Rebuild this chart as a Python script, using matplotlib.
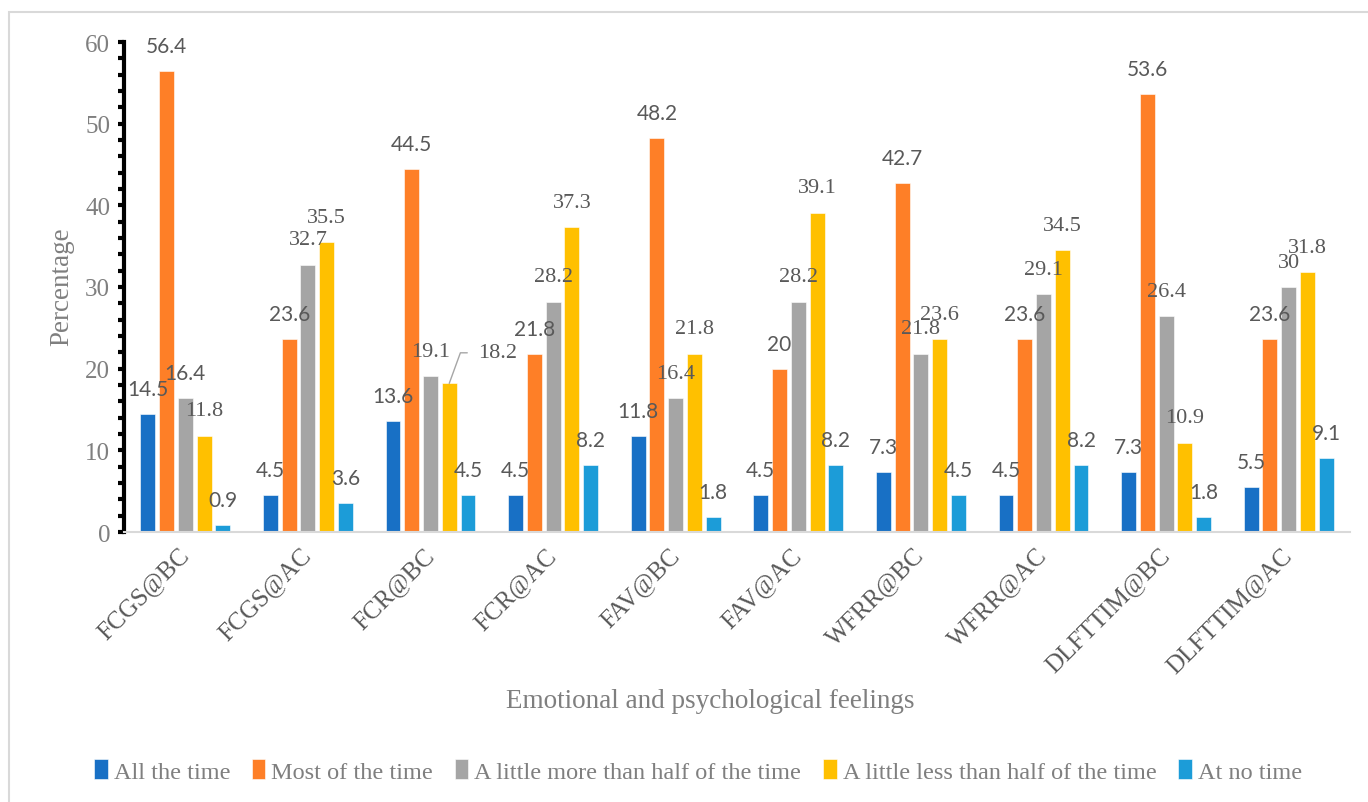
#!/usr/bin/env python3

"""
Grouped bar chart: emotional and psychological feelings before / after.
"""

import numpy as np
from matplotlib import pyplot as plt
from matplotlib.patches import Rectangle
from matplotlib.ticker import MultipleLocator

plt.rcParams['font.family'] = 'Liberation Serif'

#### DATA ####
categories = ['FCGS@BC', 'FCGS@AC', 'FCR@BC', 'FCR@AC', 'FAV@BC',
              'FAV@AC', 'WFRR@BC', 'WFRR@AC', 'DLFTTIM@BC', 'DLFTTIM@AC']
series_names = ['All the time', 'Most of the time',
                'A little more than half of the time',
                'A little less than half of the time', 'At no time']
all_time = [14.5, 4.5, 13.6, 4.5, 11.8, 4.5, 7.3, 4.5, 7.3, 5.5]
most_time = [56.4, 23.6, 44.5, 21.8, 48.2, 20, 42.7, 23.6, 53.6, 23.6]
more_half = [16.4, 32.7, 19.1, 28.2, 16.4, 28.2, 21.8, 29.1, 26.4, 30]
less_half = [11.8, 35.5, 18.2, 37.3, 21.8, 39.1, 23.6, 34.5, 10.9, 31.8]
no_time = [0.9, 3.6, 4.5, 8.2, 1.8, 8.2, 4.5, 8.2, 1.8, 9.1]

series = [all_time, most_time, more_half, less_half, no_time]
colors = ['#1870C5', '#FE7F27', '#A5A5A5', '#FFC000', '#1C9CD8']
# label font per series (Excel mixed Calibri and Times here)
label_fonts = ['Lato', 'Lato', 'Liberation Serif', 'Liberation Serif', 'Lato']

fig = plt.figure(figsize=(13.68, 8.03), dpi=100)
ax = fig.add_axes([124 / 1368, 1 - 533 / 803, 1226 / 1368, 490 / 803])

# light outer frame
fig.patches.append(Rectangle((9 / 1368, -0.05), 1.1, 1 - 13 / 803 + 0.05,
                             transform=fig.transFigure, fill=False,
                             edgecolor='#D9D9D9', linewidth=1.5))

x = np.arange(len(categories))
step = 0.153
width = 0.122
label_gray = '#595959'

for i, (vals, color) in enumerate(zip(series, colors)):
    pos = x + (i - 2) * step
    bars = ax.bar(pos, vals, width, color=color, label=series_names[i],
                  edgecolor='white', linewidth=0.4, zorder=2)
    for j, (b, v) in enumerate(zip(bars, vals)):
        txt = '{:g}'.format(v)
        font = label_fonts[i]
        if i == 2 and j == 0:
            font = 'Lato'
        bx = b.get_x() + b.get_width() / 2
        if i == 3 and j == 2:
            # label moved aside with a leader line
            ax.annotate(txt, xy=(bx, v), xytext=(35, 22), textcoords='offset points',
                        ha='center', va='center', fontsize=16, color=label_gray,
                        family=font, zorder=5,
                        arrowprops=dict(arrowstyle='-', color='#A6A6A6', lw=1,
                                        relpos=(0, 0.5), shrinkA=6, shrinkB=0,
                                        connectionstyle='angle,angleA=0,angleB=70,rad=0'))
            continue
        ax.annotate(txt, xy=(bx, v), xytext=(0, 18), textcoords='offset points',
                    ha='center', va='center', fontsize=16 if font != 'Lato' else 15,
                    color=label_gray, family=font, zorder=5)

ax.set_xlim(-0.5, len(categories) - 0.5)
ax.set_ylim(0, 60)
ax.yaxis.set_major_locator(MultipleLocator(10))
ax.yaxis.set_minor_locator(MultipleLocator(2))

for s in ['top', 'right']:
    ax.spines[s].set_visible(False)
ax.spines['left'].set_color('black')
ax.spines['left'].set_linewidth(3)
ax.spines['bottom'].set_color('#D9D9D9')
ax.spines['bottom'].set_linewidth(1.5)
ax.spines['bottom'].set_zorder(4)

ax.tick_params(axis='y', which='both', direction='out', length=4, width=3,
               color='black', labelsize=18, labelcolor='#7F7F7F', pad=6)
ax.tick_params(axis='x', length=0, labelsize=18, labelcolor='#595959', pad=14)
ax.set_xticks(x)
ax.set_xticklabels(categories, rotation=45, ha='right', va='center',
                   rotation_mode='anchor')

fig.text(62 / 1368, 1 - 287 / 803, 'Percentage', rotation=90, ha='center',
         va='center', fontsize=19.5, color='#7F7F7F')
fig.text(710 / 1368, 1 - 701 / 803, 'Emotional and psychological feelings',
         ha='center', va='center', fontsize=19.5, color='#7F7F7F')

fig.legend(loc='center', bbox_to_anchor=(698 / 1368, 1 - 772 / 803), ncol=5,
           frameon=False, fontsize=17.5, labelcolor='#7F7F7F', handlelength=0.55,
           handleheight=0.9, handletextpad=0.25, columnspacing=0.9)

fig.savefig('out.png', dpi=100)
